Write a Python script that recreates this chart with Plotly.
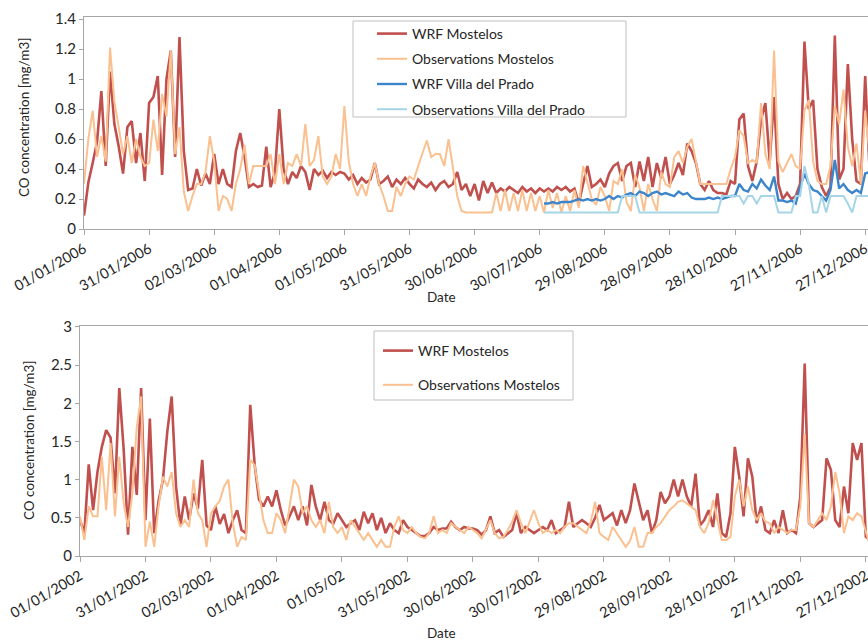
import pandas as pd
import plotly.graph_objects as go

# ---------------------------------------------------------------------------
# Daily CO concentration (mg/m3), sampled every second day
# ---------------------------------------------------------------------------

# 2006, starting 01/01/2006
wrf_mostelos_2006 = [
    0.09, 0.31, 0.44, 0.58, 0.92, 0.42, 1.05, 0.70, 0.55, 0.37, 0.68, 0.72, 0.44, 0.64, 0.32,
    0.84, 0.88, 1.02, 0.36, 1.00, 1.19, 0.48, 1.28, 0.52, 0.26, 0.27, 0.40, 0.29, 0.37, 0.30,
    0.50, 0.30, 0.40, 0.30, 0.28, 0.52, 0.64, 0.48, 0.28, 0.30, 0.28, 0.29, 0.55, 0.28, 0.38,
    0.80, 0.40, 0.30, 0.38, 0.34, 0.42, 0.38, 0.26, 0.40, 0.36, 0.39, 0.34, 0.38, 0.36, 0.38,
    0.37, 0.33, 0.36, 0.30, 0.34, 0.31, 0.33, 0.44, 0.30, 0.32, 0.35, 0.28, 0.33, 0.30, 0.34,
    0.30, 0.27, 0.33, 0.30, 0.28, 0.31, 0.26, 0.30, 0.32, 0.28, 0.30, 0.38, 0.26, 0.30, 0.22,
    0.30, 0.19, 0.32, 0.24, 0.31, 0.24, 0.27, 0.25, 0.28, 0.26, 0.24, 0.28, 0.25, 0.27, 0.24,
    0.27, 0.25, 0.27, 0.25, 0.28, 0.26, 0.28, 0.25, 0.27, 0.17, 0.30, 0.42, 0.28, 0.30, 0.33,
    0.28, 0.37, 0.42, 0.44, 0.32, 0.42, 0.44, 0.28, 0.45, 0.32, 0.48, 0.28, 0.44, 0.34, 0.48,
    0.30, 0.36, 0.44, 0.36, 0.57, 0.52, 0.44, 0.30, 0.26, 0.32, 0.26, 0.24, 0.24, 0.23, 0.32,
    0.30, 0.73, 0.77, 0.42, 0.32, 0.45, 0.73, 0.84, 0.45, 0.88, 0.30, 0.20, 0.24, 0.20, 0.22,
    0.30, 1.25, 0.80, 0.86, 0.40, 0.28, 0.22, 0.28, 1.29, 0.33, 0.40, 1.10, 0.60, 0.32, 0.30,
    1.02, 0.40, 0.38,
]

obs_mostelos_2006 = [
    0.30, 0.60, 0.79, 0.48, 0.62, 0.45, 1.21, 0.85, 0.68, 0.50, 0.62, 0.44, 0.60, 0.48, 0.42,
    0.44, 0.73, 0.52, 0.90, 0.75, 1.19, 0.50, 0.68, 0.25, 0.12, 0.22, 0.30, 0.30, 0.38, 0.62,
    0.45, 0.12, 0.22, 0.20, 0.12, 0.30, 0.40, 0.56, 0.30, 0.42, 0.42, 0.42, 0.42, 0.50, 0.30,
    0.50, 0.30, 0.44, 0.42, 0.50, 0.42, 0.70, 0.42, 0.46, 0.62, 0.35, 0.30, 0.35, 0.50, 0.40,
    0.82, 0.45, 0.30, 0.22, 0.30, 0.22, 0.35, 0.44, 0.30, 0.22, 0.12, 0.12, 0.28, 0.22, 0.30,
    0.35, 0.33, 0.42, 0.50, 0.59, 0.48, 0.50, 0.50, 0.42, 0.60, 0.42, 0.22, 0.12, 0.11, 0.11,
    0.11, 0.11, 0.11, 0.11, 0.11, 0.24, 0.12, 0.26, 0.12, 0.24, 0.12, 0.26, 0.12, 0.24, 0.12,
    0.22, 0.11, 0.26, 0.14, 0.24, 0.11, 0.22, 0.12, 0.26, 0.14, 0.42, 0.30, 0.20, 0.16, 0.28,
    0.22, 0.12, 0.32, 0.30, 0.40, 0.18, 0.12, 0.36, 0.28, 0.12, 0.30, 0.20, 0.12, 0.38, 0.30,
    0.28, 0.48, 0.52, 0.44, 0.55, 0.60, 0.45, 0.30, 0.30, 0.30, 0.30, 0.30, 0.30, 0.30, 0.40,
    0.48, 0.66, 0.62, 0.44, 0.46, 0.44, 0.84, 0.50, 0.40, 1.19, 0.45, 0.38, 0.44, 0.50, 0.42,
    0.40, 0.79, 0.86, 0.45, 0.32, 0.30, 0.30, 0.42, 0.82, 0.70, 0.93, 0.55, 0.42, 0.57, 0.30,
    0.79, 0.50, 0.45,
]

# Villa del Prado series start on 01/08/2006
wrf_villa_2006 = [
    0.17, 0.17, 0.18, 0.17, 0.18, 0.18, 0.18, 0.19, 0.20, 0.19, 0.20, 0.19, 0.20, 0.19, 0.20,
    0.22, 0.20, 0.22, 0.21, 0.23, 0.24, 0.22, 0.25, 0.24, 0.22, 0.24, 0.25, 0.23, 0.24, 0.23,
    0.22, 0.25, 0.23, 0.24, 0.21, 0.20, 0.20, 0.20, 0.21, 0.20, 0.21, 0.20, 0.21, 0.22, 0.22,
    0.30, 0.26, 0.25, 0.30, 0.27, 0.33, 0.29, 0.26, 0.35, 0.19, 0.19, 0.18, 0.19, 0.17, 0.28,
    0.37, 0.30, 0.26, 0.25, 0.22, 0.19, 0.26, 0.46, 0.27, 0.30, 0.26, 0.24, 0.26, 0.24, 0.37,
    0.38, 0.35,
]

obs_villa_2006 = [
    0.11, 0.11, 0.11, 0.11, 0.11, 0.11, 0.11, 0.11, 0.11, 0.11, 0.11, 0.11, 0.11, 0.11, 0.11,
    0.11, 0.11, 0.11, 0.22, 0.22, 0.22, 0.22, 0.11, 0.11, 0.11, 0.11, 0.11, 0.11, 0.11, 0.11,
    0.11, 0.11, 0.11, 0.11, 0.11, 0.11, 0.11, 0.11, 0.11, 0.11, 0.11, 0.22, 0.22, 0.22, 0.22,
    0.22, 0.17, 0.22, 0.22, 0.17, 0.22, 0.22, 0.22, 0.22, 0.11, 0.11, 0.11, 0.11, 0.22, 0.22,
    0.42, 0.30, 0.11, 0.11, 0.22, 0.11, 0.22, 0.22, 0.22, 0.22, 0.17, 0.11, 0.22, 0.22, 0.22,
    0.22, 0.22,
]

# 2002, starting 01/01/2002
wrf_mostelos_2002 = [
    0.47, 0.30, 1.20, 0.60, 1.10, 1.43, 1.65, 1.55, 0.82, 2.20, 1.40, 0.28, 1.43, 0.80, 2.20,
    0.47, 1.80, 0.30, 0.72, 1.00, 1.63, 2.09, 0.91, 0.40, 0.78, 0.47, 0.82, 0.62, 1.26, 0.40,
    0.34, 0.65, 0.42, 0.55, 0.30, 0.47, 0.60, 0.34, 0.30, 1.98, 1.20, 0.74, 0.65, 0.78, 0.65,
    0.86, 0.60, 0.40, 0.52, 0.65, 0.47, 0.65, 0.40, 0.93, 0.65, 0.47, 0.71, 0.47, 0.42, 0.56,
    0.47, 0.38, 0.43, 0.47, 0.34, 0.58, 0.43, 0.56, 0.34, 0.50, 0.30, 0.43, 0.34, 0.30, 0.47,
    0.38, 0.34, 0.30, 0.26, 0.26, 0.30, 0.38, 0.34, 0.36, 0.36, 0.45, 0.38, 0.34, 0.38, 0.36,
    0.36, 0.34, 0.28, 0.34, 0.52, 0.30, 0.34, 0.25, 0.30, 0.34, 0.56, 0.30, 0.38, 0.34, 0.30,
    0.34, 0.38, 0.34, 0.47, 0.30, 0.34, 0.38, 0.71, 0.38, 0.43, 0.47, 0.43, 0.38, 0.50, 0.67,
    0.47, 0.52, 0.56, 0.40, 0.60, 0.43, 0.60, 0.95, 0.69, 0.47, 0.60, 0.30, 0.47, 0.84, 0.69,
    0.78, 1.00, 0.78, 1.00, 0.78, 0.65, 1.08, 0.40, 0.47, 0.60, 0.38, 0.82, 0.30, 0.25, 0.56,
    1.43, 1.04, 0.52, 1.28, 1.04, 0.43, 0.65, 0.34, 0.30, 0.47, 0.30, 0.60, 0.30, 0.34, 0.30,
    0.78, 2.52, 0.43, 0.38, 0.43, 0.47, 1.28, 1.13, 0.47, 0.38, 0.91, 0.56, 1.48, 1.26, 1.48,
    0.25, 0.21, 0.30,
]

obs_mostelos_2002 = [
    0.52, 0.21, 0.65, 0.52, 0.52, 1.30, 0.60, 1.48, 0.52, 1.30, 0.69, 0.38, 0.82, 1.69, 2.09,
    0.12, 0.45, 0.12, 0.65, 1.04, 0.91, 1.10, 0.56, 0.38, 0.47, 0.38, 1.00, 0.56, 0.47, 0.12,
    0.56, 0.65, 0.72, 0.91, 1.00, 0.43, 0.12, 0.25, 0.21, 1.26, 1.19, 0.82, 0.47, 0.30, 0.30,
    0.56, 0.47, 0.30, 0.65, 1.00, 0.91, 0.56, 0.65, 0.47, 0.38, 0.47, 0.30, 0.71, 0.38, 0.30,
    0.38, 0.21, 0.47, 0.38, 0.30, 0.21, 0.30, 0.21, 0.12, 0.21, 0.12, 0.12, 0.38, 0.52, 0.34,
    0.30, 0.38, 0.30, 0.25, 0.23, 0.30, 0.52, 0.30, 0.34, 0.30, 0.43, 0.38, 0.34, 0.30, 0.38,
    0.34, 0.30, 0.23, 0.34, 0.47, 0.30, 0.23, 0.25, 0.34, 0.45, 0.60, 0.43, 0.30, 0.45, 0.60,
    0.43, 0.30, 0.34, 0.30, 0.34, 0.30, 0.38, 0.43, 0.43, 0.38, 0.34, 0.30, 0.45, 0.71, 0.30,
    0.25, 0.21, 0.38, 0.30, 0.21, 0.12, 0.20, 0.38, 0.12, 0.12, 0.30, 0.30, 0.38, 0.43, 0.52,
    0.60, 0.65, 0.71, 0.73, 0.69, 0.65, 0.60, 0.38, 0.30, 0.43, 0.73, 0.47, 0.21, 0.21, 0.25,
    0.78, 1.00, 0.65, 0.91, 0.60, 0.47, 0.56, 0.45, 0.43, 0.30, 0.38, 0.34, 0.30, 0.34, 0.34,
    0.65, 1.60, 0.43, 0.38, 0.47, 0.56, 0.47, 0.65, 1.10, 0.82, 0.30, 0.52, 0.47, 0.56, 0.52,
    0.30, 0.12, 0.25,
]

# Axis ticks (every 30 days)
tick_dates_2006 = ["2006-01-01", "2006-01-31", "2006-03-02", "2006-04-01", "2006-05-01",
                   "2006-05-31", "2006-06-30", "2006-07-30", "2006-08-29", "2006-09-28",
                   "2006-10-28", "2006-11-27", "2006-12-27"]
tick_labels_2006 = ["01/01/2006", "31/01/2006", "02/03/2006", "01/04/2006", "01/05/2006",
                    "31/05/2006", "30/06/2006", "30/07/2006", "29/08/2006", "28/09/2006",
                    "28/10/2006", "27/11/2006", "27/12/2006"]
tick_dates_2002 = ["2002-01-01", "2002-01-31", "2002-03-02", "2002-04-01", "2002-05-01",
                   "2002-05-31", "2002-06-30", "2002-07-30", "2002-08-29", "2002-09-28",
                   "2002-10-28", "2002-11-27", "2002-12-27"]
tick_labels_2002 = ["01/01/2002", "31/01/2002", "02/03/2002", "01/04/2002", "01/05/02",
                    "31/05/2002", "30/06/2002", "30/07/2002", "29/08/2002", "28/09/2002",
                    "28/10/2002", "27/11/2002", "27/12/2002"]
y_ticks_top = [0, 0.2, 0.4, 0.6, 0.8, 1.0, 1.2, 1.4]
y_labels_top = ["0", "0.2", "0.4", "0.6", "0.8", "1", "1.2", "1.4"]
y_ticks_bottom = [0, 0.5, 1.0, 1.5, 2.0, 2.5, 3.0]
y_labels_bottom = ["0", "0.5", "1", "1.5", "2", "2.5", "3"]

# ---------------------------------------------------------------------------
# Figure geometry (pixels)
# ---------------------------------------------------------------------------
W, H = 868, 641


def px_x(x):
    return x / W


def px_y(y):
    return 1 - y / H


def dates(start, values):
    return pd.date_range(start, periods=len(values), freq="2D")


RED = "#C0504D"
ORANGE = "#FAC08F"
BLUE = "#3D85CB"
LIGHTBLUE = "#A5D5E6"
AXIS = "#A6A6A6"
TEXT = "#262626"
FONT = "Lato, 'Open Sans', sans-serif"

fig = go.Figure()

top_series = [
    ("WRF Mostelos", "2006-01-01", wrf_mostelos_2006, RED, 2.6),
    ("Observations Mostelos", "2006-01-01", obs_mostelos_2006, ORANGE, 2.0),
    ("WRF Villa del Prado", "2006-08-01", wrf_villa_2006, BLUE, 2.4),
    ("Observations Villa del Prado", "2006-08-01", obs_villa_2006, LIGHTBLUE, 2.0),
]
for i, (name, start, vals, color, width) in enumerate(top_series):
    fig.add_trace(go.Scatter(
        x=dates(start, vals), y=vals, name=name, mode="lines",
        line=dict(color=color, width=width),
        xaxis="x", yaxis="y", legend="legend", legendgroup=f"top{i}",
    ))

bottom_series = [
    ("WRF Mostelos", "2002-01-01", wrf_mostelos_2002, RED, 2.6),
    ("Observations Mostelos", "2002-01-01", obs_mostelos_2002, ORANGE, 2.0),
]
for i, (name, start, vals, color, width) in enumerate(bottom_series):
    fig.add_trace(go.Scatter(
        x=dates(start, vals), y=vals, name=name, mode="lines",
        line=dict(color=color, width=width),
        xaxis="x2", yaxis="y2", legend="legend2", legendgroup=f"bottom{i}",
    ))

common_x = dict(
    type="date", tickmode="array", tickangle=-30, ticks="outside", ticklen=5,
    tickcolor=AXIS, showline=True, linecolor=AXIS, linewidth=1, mirror=True,
    showgrid=False, zeroline=False, automargin=False, ticklabeloverflow="allow",
    tickfont=dict(family=FONT, size=14.5, color=TEXT),
)
common_y = dict(
    tickmode="array", ticks="outside", ticklen=4, tickcolor=AXIS,
    showline=True, linecolor=AXIS, linewidth=1, showgrid=False, zeroline=False,
    automargin=False, tickfont=dict(family=FONT, size=15, color=TEXT),
)


def title(text, x, y, angle=0):
    return dict(text=text, xref="paper", yref="paper", x=px_x(x), y=px_y(y),
                xanchor="center", yanchor="middle", textangle=angle,
                showarrow=False, font=dict(family=FONT, size=13.5, color=TEXT))


fig.update_layout(
    width=W, height=H, template="none",
    margin=dict(l=0, r=0, t=0, b=0, pad=0),
    paper_bgcolor="white", plot_bgcolor="white",
    font=dict(family=FONT, size=14, color=TEXT),
    showlegend=True,
    xaxis=dict(common_x, domain=[px_x(84), 1], anchor="y",
               range=["2006-01-01", "2006-12-28 07:00"],
               tickvals=tick_dates_2006, ticktext=tick_labels_2006),
    yaxis=dict(common_y, domain=[px_y(229), px_y(17)], anchor="x",
               range=[0, 1.414], tickvals=y_ticks_top, ticktext=y_labels_top),
    xaxis2=dict(common_x, domain=[px_x(80), 1], anchor="y2",
                range=["2002-01-01", "2002-12-28"],
                tickvals=tick_dates_2002, ticktext=tick_labels_2002),
    yaxis2=dict(common_y, domain=[px_y(556), px_y(326)], anchor="x2",
                range=[0, 3.013], tickvals=y_ticks_bottom, ticktext=y_labels_bottom),
    legend=dict(x=px_x(372), y=px_y(18), xanchor="left", yanchor="top",
                bgcolor="rgba(0,0,0,0)", borderwidth=0, tracegroupgap=4,
                font=dict(family=FONT, size=14, color=TEXT)),
    legend2=dict(x=px_x(378), y=px_y(335), xanchor="left", yanchor="top",
                 bgcolor="rgba(0,0,0,0)", borderwidth=0, tracegroupgap=13,
                 font=dict(family=FONT, size=14, color=TEXT)),
    shapes=[
        dict(type="rect", xref="paper", yref="paper",
             x0=px_x(353), x1=px_x(626), y0=px_y(117), y1=px_y(21),
             line=dict(color="#BFBFBF", width=1), fillcolor="white", layer="below"),
        dict(type="rect", xref="paper", yref="paper",
             x0=px_x(374), x1=px_x(573), y0=px_y(400), y1=px_y(331),
             line=dict(color="#BFBFBF", width=1), fillcolor="white", layer="below"),
    ],
    annotations=[
        title("CO concentration [mg/m3]", 24, 118, -90),
        title("Date", 442, 297),
        title("CO concentration [mg/m3]", 29, 441, -90),
        title("Date", 442, 633),
    ],
)

fig.write_html("out.html")
